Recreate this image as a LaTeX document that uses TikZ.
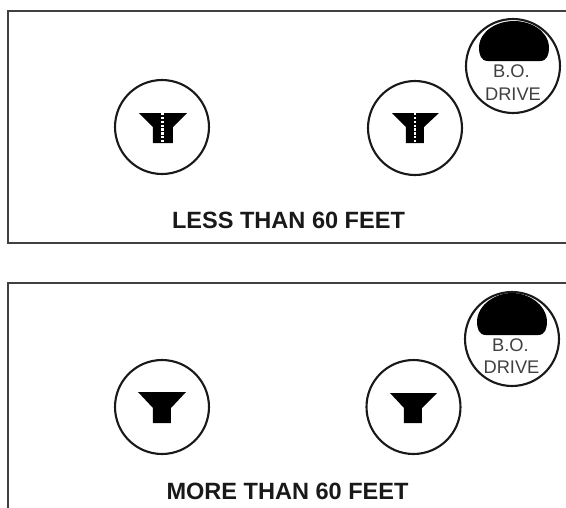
\documentclass[tikz,border=0pt]{standalone}
\usepackage{fontspec}
\setmainfont{Liberation Sans}
\tikzset{
  panel/.style={line width=1.6pt, draw=black!75},
  port/.style={circle, draw=black!90, line width=1.2pt, minimum size=1.88cm, inner sep=0pt},
  head/.style={fill=black, draw=none},
  thread/.style={draw=white, line width=1.3pt, dash pattern=on 1.3pt off 0.9pt},
  caption/.style={font=\bfseries\fontsize{13.4pt}{15pt}\selectfont, text=black!90, inner sep=0pt},
  drivetext/.style={font=\fontsize{10.4pt}{12pt}\selectfont, text=black!75, inner sep=0pt},
}
\begin{document}
\begin{tikzpicture}[x=0.02cm, y=-0.02cm, line width=1pt]
  \useasboundingbox (0,0) rectangle (566,508);
  % top panel: less than 60 feet
  \draw[panel] (566,11) -- (8,11) -- (8,243) -- (566,243);
  \node[port] (holeA) at (162,127) {};
  \fill[head] (139,113) -- (187,113) -- (173,127) -- (173,143) -- (153,143) -- (153,127) -- cycle;
  \draw[thread] (162.5,113) -- (162.5,143);
  \node[port] (holeB) at (415,128) {};
  \fill[head] (392,113) -- (439,113) -- (424,127) -- (424,143) -- (406,143) -- (406,127) -- cycle;
  \draw[thread] (415,113) -- (415,143);
  \node[port] (driveA) at (513,66) {};
  \fill[head] (488,61) .. controls (481,61) and (479,55) .. (479,47) .. controls (480,30) and (498,21) .. (514,21) .. controls (530,21) and (548,30) .. (549,47) .. controls (549,55) and (547,61) .. (540,61) -- cycle;
  \node[drivetext] (boA) at (511.5,71.5) {B.O.};
  \node[drivetext] (rvA) at (513,94) {DRIVE};
  \node[caption] (lessLabel) at (288.5,220) {LESS THAN 60 FEET};
  % bottom panel: more than 60 feet
  \draw[panel] (566,283) -- (8,283) -- (8,508);
  \node[port] (holeC) at (162,407) {};
  \fill[head] (138,392) -- (186,392) -- (171,408) -- (171,423) -- (153,423) -- (153,408) -- cycle;
  \node[port] (holeD) at (413.5,407) {};
  \fill[head] (390,393) -- (437,393) -- (422,408) -- (422,423) -- (404,423) -- (404,408) -- cycle;
  \node[port] (driveB) at (512,339) {};
  \fill[head] (486,335) .. controls (479,335) and (477,329) .. (477,321) .. controls (478,304) and (496,293) .. (512,293) .. controls (528,293) and (546,304) .. (547,321) .. controls (547,329) and (545,335) .. (538,335) -- cycle;
  \node[drivetext] (boB) at (510.5,345) {B.O.};
  \node[drivetext] (rvB) at (511.5,367.5) {DRIVE};
  \node[caption] (moreLabel) at (287.5,491) {MORE THAN 60 FEET};
\end{tikzpicture}
\end{document}
